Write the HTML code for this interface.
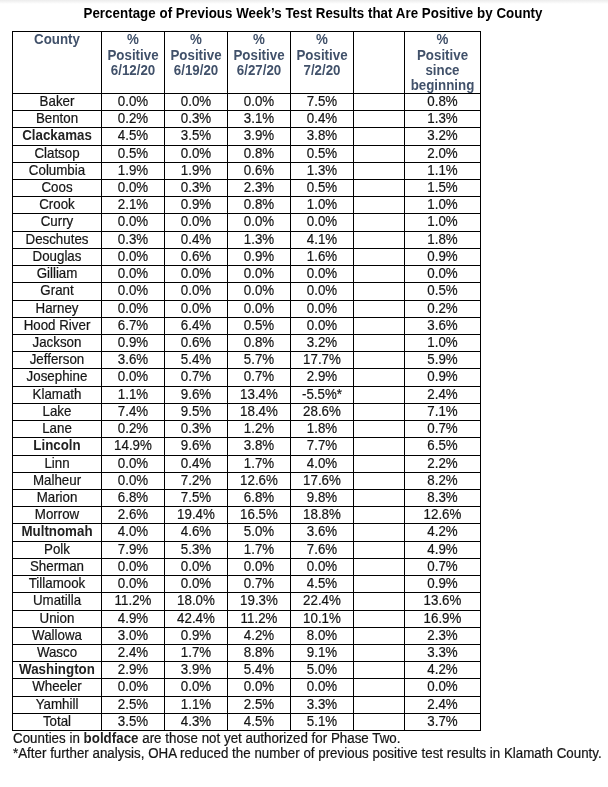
<!DOCTYPE html>
<html><head><meta charset="utf-8"><title>Percentage of Previous Week's Test Results that Are Positive by County</title>
<style>
html,body{margin:0;padding:0;background:#fff;}
body{width:608px;height:787px;position:relative;overflow:hidden;font-family:"Liberation Sans",sans-serif;color:#000;}
.shade{position:absolute;left:0;top:0;width:608px;height:4px;background:linear-gradient(#ececec,#ffffff);}
.t{position:absolute;white-space:nowrap;text-align:center;}
.title{left:0;width:626px;top:6px;font-size:13.33px;font-weight:bold;line-height:16px;color:#000;letter-spacing:0.04px;transform:scaleY(1.05);transform-origin:50% 12.5px;}
.h{font-size:13.33px;font-weight:bold;line-height:15px;height:15px;color:#41516A;transform:scaleY(1.09);transform-origin:50% 12px;}
.c{font-size:13.33px;line-height:17px;height:17px;color:#151515;-webkit-text-stroke:0.2px #151515;transform:translateY(-0.25px) scaleY(1.05);transform-origin:50% 13px;}
.b{font-weight:bold;color:#222;-webkit-text-stroke:0;}
.f b{-webkit-text-stroke:0;color:#222;}
.v,.hl{position:absolute;background:#000;}
.v{width:1px;}
.hl{height:1px;}
.f{position:absolute;left:13px;font-size:13.33px;line-height:15px;white-space:nowrap;color:#151515;-webkit-text-stroke:0.2px #151515;letter-spacing:0.015px;height:15px;transform:translateY(0.4px) scaleY(1.07);transform-origin:0 12px;}
</style></head><body>
<div class="shade"></div>
<div class="t title">Percentage of Previous Week’s Test Results that Are Positive by County</div>

<div class="v" style="left:12px;top:31px;height:700px"></div>
<div class="v" style="left:101px;top:31px;height:700px"></div>
<div class="v" style="left:164px;top:31px;height:700px"></div>
<div class="v" style="left:227px;top:31px;height:700px"></div>
<div class="v" style="left:290px;top:31px;height:700px"></div>
<div class="v" style="left:353px;top:31px;height:700px"></div>
<div class="v" style="left:404px;top:31px;height:700px"></div>
<div class="v" style="left:480px;top:31px;height:700px"></div>
<div class="hl" style="left:12px;top:31px;width:469px"></div>
<div class="hl" style="left:12px;top:93px;width:469px"></div>
<div class="hl" style="left:12px;top:110px;width:469px"></div>
<div class="hl" style="left:12px;top:127px;width:469px"></div>
<div class="hl" style="left:12px;top:145px;width:469px"></div>
<div class="hl" style="left:12px;top:162px;width:469px"></div>
<div class="hl" style="left:12px;top:179px;width:469px"></div>
<div class="hl" style="left:12px;top:196px;width:469px"></div>
<div class="hl" style="left:12px;top:213px;width:469px"></div>
<div class="hl" style="left:12px;top:231px;width:469px"></div>
<div class="hl" style="left:12px;top:248px;width:469px"></div>
<div class="hl" style="left:12px;top:265px;width:469px"></div>
<div class="hl" style="left:12px;top:282px;width:469px"></div>
<div class="hl" style="left:12px;top:300px;width:469px"></div>
<div class="hl" style="left:12px;top:317px;width:469px"></div>
<div class="hl" style="left:12px;top:334px;width:469px"></div>
<div class="hl" style="left:12px;top:351px;width:469px"></div>
<div class="hl" style="left:12px;top:368px;width:469px"></div>
<div class="hl" style="left:12px;top:386px;width:469px"></div>
<div class="hl" style="left:12px;top:403px;width:469px"></div>
<div class="hl" style="left:12px;top:420px;width:469px"></div>
<div class="hl" style="left:12px;top:437px;width:469px"></div>
<div class="hl" style="left:12px;top:455px;width:469px"></div>
<div class="hl" style="left:12px;top:472px;width:469px"></div>
<div class="hl" style="left:12px;top:489px;width:469px"></div>
<div class="hl" style="left:12px;top:506px;width:469px"></div>
<div class="hl" style="left:12px;top:523px;width:469px"></div>
<div class="hl" style="left:12px;top:541px;width:469px"></div>
<div class="hl" style="left:12px;top:558px;width:469px"></div>
<div class="hl" style="left:12px;top:575px;width:469px"></div>
<div class="hl" style="left:12px;top:592px;width:469px"></div>
<div class="hl" style="left:12px;top:610px;width:469px"></div>
<div class="hl" style="left:12px;top:627px;width:469px"></div>
<div class="hl" style="left:12px;top:644px;width:469px"></div>
<div class="hl" style="left:12px;top:661px;width:469px"></div>
<div class="hl" style="left:12px;top:678px;width:469px"></div>
<div class="hl" style="left:12px;top:696px;width:469px"></div>
<div class="hl" style="left:12px;top:713px;width:469px"></div>
<div class="hl" style="left:12px;top:730px;width:469px"></div>
<div class="t h" style="left:13px;width:88px;top:32.0px">County</div>
<div class="t h" style="left:102px;width:62px;top:32.0px">%</div>
<div class="t h" style="left:102px;width:62px;top:47.6px">Positive</div>
<div class="t h" style="left:102px;width:62px;top:62.8px">6/12/20</div>
<div class="t h" style="left:165px;width:62px;top:32.0px">%</div>
<div class="t h" style="left:165px;width:62px;top:47.6px">Positive</div>
<div class="t h" style="left:165px;width:62px;top:62.8px">6/19/20</div>
<div class="t h" style="left:228px;width:62px;top:32.0px">%</div>
<div class="t h" style="left:228px;width:62px;top:47.6px">Positive</div>
<div class="t h" style="left:228px;width:62px;top:62.8px">6/27/20</div>
<div class="t h" style="left:291px;width:62px;top:32.0px">%</div>
<div class="t h" style="left:291px;width:62px;top:47.6px">Positive</div>
<div class="t h" style="left:291px;width:62px;top:62.8px">7/2/20</div>
<div class="t h" style="left:405px;width:75px;top:32.0px">%</div>
<div class="t h" style="left:405px;width:75px;top:47.6px">Positive</div>
<div class="t h" style="left:405px;width:75px;top:62.8px">since</div>
<div class="t h" style="left:405px;width:75px;top:77.7px">beginning</div>
<div class="t c" style="left:13px;width:88px;top:93px">Baker</div>
<div class="t c" style="left:102px;width:62px;top:93px">0.0%</div>
<div class="t c" style="left:165px;width:62px;top:93px">0.0%</div>
<div class="t c" style="left:228px;width:62px;top:93px">0.0%</div>
<div class="t c" style="left:291px;width:62px;top:93px">7.5%</div>
<div class="t c" style="left:405px;width:75px;top:93px">0.8%</div>
<div class="t c" style="left:13px;width:88px;top:110px">Benton</div>
<div class="t c" style="left:102px;width:62px;top:110px">0.2%</div>
<div class="t c" style="left:165px;width:62px;top:110px">0.3%</div>
<div class="t c" style="left:228px;width:62px;top:110px">3.1%</div>
<div class="t c" style="left:291px;width:62px;top:110px">0.4%</div>
<div class="t c" style="left:405px;width:75px;top:110px">1.3%</div>
<div class="t c b" style="left:13px;width:88px;top:127px">Clackamas</div>
<div class="t c" style="left:102px;width:62px;top:127px">4.5%</div>
<div class="t c" style="left:165px;width:62px;top:127px">3.5%</div>
<div class="t c" style="left:228px;width:62px;top:127px">3.9%</div>
<div class="t c" style="left:291px;width:62px;top:127px">3.8%</div>
<div class="t c" style="left:405px;width:75px;top:127px">3.2%</div>
<div class="t c" style="left:13px;width:88px;top:145px">Clatsop</div>
<div class="t c" style="left:102px;width:62px;top:145px">0.5%</div>
<div class="t c" style="left:165px;width:62px;top:145px">0.0%</div>
<div class="t c" style="left:228px;width:62px;top:145px">0.8%</div>
<div class="t c" style="left:291px;width:62px;top:145px">0.5%</div>
<div class="t c" style="left:405px;width:75px;top:145px">2.0%</div>
<div class="t c" style="left:13px;width:88px;top:162px">Columbia</div>
<div class="t c" style="left:102px;width:62px;top:162px">1.9%</div>
<div class="t c" style="left:165px;width:62px;top:162px">1.9%</div>
<div class="t c" style="left:228px;width:62px;top:162px">0.6%</div>
<div class="t c" style="left:291px;width:62px;top:162px">1.3%</div>
<div class="t c" style="left:405px;width:75px;top:162px">1.1%</div>
<div class="t c" style="left:13px;width:88px;top:179px">Coos</div>
<div class="t c" style="left:102px;width:62px;top:179px">0.0%</div>
<div class="t c" style="left:165px;width:62px;top:179px">0.3%</div>
<div class="t c" style="left:228px;width:62px;top:179px">2.3%</div>
<div class="t c" style="left:291px;width:62px;top:179px">0.5%</div>
<div class="t c" style="left:405px;width:75px;top:179px">1.5%</div>
<div class="t c" style="left:13px;width:88px;top:196px">Crook</div>
<div class="t c" style="left:102px;width:62px;top:196px">2.1%</div>
<div class="t c" style="left:165px;width:62px;top:196px">0.9%</div>
<div class="t c" style="left:228px;width:62px;top:196px">0.8%</div>
<div class="t c" style="left:291px;width:62px;top:196px">1.0%</div>
<div class="t c" style="left:405px;width:75px;top:196px">1.0%</div>
<div class="t c" style="left:13px;width:88px;top:213px">Curry</div>
<div class="t c" style="left:102px;width:62px;top:213px">0.0%</div>
<div class="t c" style="left:165px;width:62px;top:213px">0.0%</div>
<div class="t c" style="left:228px;width:62px;top:213px">0.0%</div>
<div class="t c" style="left:291px;width:62px;top:213px">0.0%</div>
<div class="t c" style="left:405px;width:75px;top:213px">1.0%</div>
<div class="t c" style="left:13px;width:88px;top:231px">Deschutes</div>
<div class="t c" style="left:102px;width:62px;top:231px">0.3%</div>
<div class="t c" style="left:165px;width:62px;top:231px">0.4%</div>
<div class="t c" style="left:228px;width:62px;top:231px">1.3%</div>
<div class="t c" style="left:291px;width:62px;top:231px">4.1%</div>
<div class="t c" style="left:405px;width:75px;top:231px">1.8%</div>
<div class="t c" style="left:13px;width:88px;top:248px">Douglas</div>
<div class="t c" style="left:102px;width:62px;top:248px">0.0%</div>
<div class="t c" style="left:165px;width:62px;top:248px">0.6%</div>
<div class="t c" style="left:228px;width:62px;top:248px">0.9%</div>
<div class="t c" style="left:291px;width:62px;top:248px">1.6%</div>
<div class="t c" style="left:405px;width:75px;top:248px">0.9%</div>
<div class="t c" style="left:13px;width:88px;top:265px">Gilliam</div>
<div class="t c" style="left:102px;width:62px;top:265px">0.0%</div>
<div class="t c" style="left:165px;width:62px;top:265px">0.0%</div>
<div class="t c" style="left:228px;width:62px;top:265px">0.0%</div>
<div class="t c" style="left:291px;width:62px;top:265px">0.0%</div>
<div class="t c" style="left:405px;width:75px;top:265px">0.0%</div>
<div class="t c" style="left:13px;width:88px;top:282px">Grant</div>
<div class="t c" style="left:102px;width:62px;top:282px">0.0%</div>
<div class="t c" style="left:165px;width:62px;top:282px">0.0%</div>
<div class="t c" style="left:228px;width:62px;top:282px">0.0%</div>
<div class="t c" style="left:291px;width:62px;top:282px">0.0%</div>
<div class="t c" style="left:405px;width:75px;top:282px">0.5%</div>
<div class="t c" style="left:13px;width:88px;top:300px">Harney</div>
<div class="t c" style="left:102px;width:62px;top:300px">0.0%</div>
<div class="t c" style="left:165px;width:62px;top:300px">0.0%</div>
<div class="t c" style="left:228px;width:62px;top:300px">0.0%</div>
<div class="t c" style="left:291px;width:62px;top:300px">0.0%</div>
<div class="t c" style="left:405px;width:75px;top:300px">0.2%</div>
<div class="t c" style="left:13px;width:88px;top:317px">Hood River</div>
<div class="t c" style="left:102px;width:62px;top:317px">6.7%</div>
<div class="t c" style="left:165px;width:62px;top:317px">6.4%</div>
<div class="t c" style="left:228px;width:62px;top:317px">0.5%</div>
<div class="t c" style="left:291px;width:62px;top:317px">0.0%</div>
<div class="t c" style="left:405px;width:75px;top:317px">3.6%</div>
<div class="t c" style="left:13px;width:88px;top:334px">Jackson</div>
<div class="t c" style="left:102px;width:62px;top:334px">0.9%</div>
<div class="t c" style="left:165px;width:62px;top:334px">0.6%</div>
<div class="t c" style="left:228px;width:62px;top:334px">0.8%</div>
<div class="t c" style="left:291px;width:62px;top:334px">3.2%</div>
<div class="t c" style="left:405px;width:75px;top:334px">1.0%</div>
<div class="t c" style="left:13px;width:88px;top:351px">Jefferson</div>
<div class="t c" style="left:102px;width:62px;top:351px">3.6%</div>
<div class="t c" style="left:165px;width:62px;top:351px">5.4%</div>
<div class="t c" style="left:228px;width:62px;top:351px">5.7%</div>
<div class="t c" style="left:291px;width:62px;top:351px">17.7%</div>
<div class="t c" style="left:405px;width:75px;top:351px">5.9%</div>
<div class="t c" style="left:13px;width:88px;top:368px">Josephine</div>
<div class="t c" style="left:102px;width:62px;top:368px">0.0%</div>
<div class="t c" style="left:165px;width:62px;top:368px">0.7%</div>
<div class="t c" style="left:228px;width:62px;top:368px">0.7%</div>
<div class="t c" style="left:291px;width:62px;top:368px">2.9%</div>
<div class="t c" style="left:405px;width:75px;top:368px">0.9%</div>
<div class="t c" style="left:13px;width:88px;top:386px">Klamath</div>
<div class="t c" style="left:102px;width:62px;top:386px">1.1%</div>
<div class="t c" style="left:165px;width:62px;top:386px">9.6%</div>
<div class="t c" style="left:228px;width:62px;top:386px">13.4%</div>
<div class="t c" style="left:291px;width:62px;top:386px">-5.5%*</div>
<div class="t c" style="left:405px;width:75px;top:386px">2.4%</div>
<div class="t c" style="left:13px;width:88px;top:403px">Lake</div>
<div class="t c" style="left:102px;width:62px;top:403px">7.4%</div>
<div class="t c" style="left:165px;width:62px;top:403px">9.5%</div>
<div class="t c" style="left:228px;width:62px;top:403px">18.4%</div>
<div class="t c" style="left:291px;width:62px;top:403px">28.6%</div>
<div class="t c" style="left:405px;width:75px;top:403px">7.1%</div>
<div class="t c" style="left:13px;width:88px;top:420px">Lane</div>
<div class="t c" style="left:102px;width:62px;top:420px">0.2%</div>
<div class="t c" style="left:165px;width:62px;top:420px">0.3%</div>
<div class="t c" style="left:228px;width:62px;top:420px">1.2%</div>
<div class="t c" style="left:291px;width:62px;top:420px">1.8%</div>
<div class="t c" style="left:405px;width:75px;top:420px">0.7%</div>
<div class="t c b" style="left:13px;width:88px;top:437px">Lincoln</div>
<div class="t c" style="left:102px;width:62px;top:437px">14.9%</div>
<div class="t c" style="left:165px;width:62px;top:437px">9.6%</div>
<div class="t c" style="left:228px;width:62px;top:437px">3.8%</div>
<div class="t c" style="left:291px;width:62px;top:437px">7.7%</div>
<div class="t c" style="left:405px;width:75px;top:437px">6.5%</div>
<div class="t c" style="left:13px;width:88px;top:455px">Linn</div>
<div class="t c" style="left:102px;width:62px;top:455px">0.0%</div>
<div class="t c" style="left:165px;width:62px;top:455px">0.4%</div>
<div class="t c" style="left:228px;width:62px;top:455px">1.7%</div>
<div class="t c" style="left:291px;width:62px;top:455px">4.0%</div>
<div class="t c" style="left:405px;width:75px;top:455px">2.2%</div>
<div class="t c" style="left:13px;width:88px;top:472px">Malheur</div>
<div class="t c" style="left:102px;width:62px;top:472px">0.0%</div>
<div class="t c" style="left:165px;width:62px;top:472px">7.2%</div>
<div class="t c" style="left:228px;width:62px;top:472px">12.6%</div>
<div class="t c" style="left:291px;width:62px;top:472px">17.6%</div>
<div class="t c" style="left:405px;width:75px;top:472px">8.2%</div>
<div class="t c" style="left:13px;width:88px;top:489px">Marion</div>
<div class="t c" style="left:102px;width:62px;top:489px">6.8%</div>
<div class="t c" style="left:165px;width:62px;top:489px">7.5%</div>
<div class="t c" style="left:228px;width:62px;top:489px">6.8%</div>
<div class="t c" style="left:291px;width:62px;top:489px">9.8%</div>
<div class="t c" style="left:405px;width:75px;top:489px">8.3%</div>
<div class="t c" style="left:13px;width:88px;top:506px">Morrow</div>
<div class="t c" style="left:102px;width:62px;top:506px">2.6%</div>
<div class="t c" style="left:165px;width:62px;top:506px">19.4%</div>
<div class="t c" style="left:228px;width:62px;top:506px">16.5%</div>
<div class="t c" style="left:291px;width:62px;top:506px">18.8%</div>
<div class="t c" style="left:405px;width:75px;top:506px">12.6%</div>
<div class="t c b" style="left:13px;width:88px;top:523px">Multnomah</div>
<div class="t c" style="left:102px;width:62px;top:523px">4.0%</div>
<div class="t c" style="left:165px;width:62px;top:523px">4.6%</div>
<div class="t c" style="left:228px;width:62px;top:523px">5.0%</div>
<div class="t c" style="left:291px;width:62px;top:523px">3.6%</div>
<div class="t c" style="left:405px;width:75px;top:523px">4.2%</div>
<div class="t c" style="left:13px;width:88px;top:541px">Polk</div>
<div class="t c" style="left:102px;width:62px;top:541px">7.9%</div>
<div class="t c" style="left:165px;width:62px;top:541px">5.3%</div>
<div class="t c" style="left:228px;width:62px;top:541px">1.7%</div>
<div class="t c" style="left:291px;width:62px;top:541px">7.6%</div>
<div class="t c" style="left:405px;width:75px;top:541px">4.9%</div>
<div class="t c" style="left:13px;width:88px;top:558px">Sherman</div>
<div class="t c" style="left:102px;width:62px;top:558px">0.0%</div>
<div class="t c" style="left:165px;width:62px;top:558px">0.0%</div>
<div class="t c" style="left:228px;width:62px;top:558px">0.0%</div>
<div class="t c" style="left:291px;width:62px;top:558px">0.0%</div>
<div class="t c" style="left:405px;width:75px;top:558px">0.7%</div>
<div class="t c" style="left:13px;width:88px;top:575px">Tillamook</div>
<div class="t c" style="left:102px;width:62px;top:575px">0.0%</div>
<div class="t c" style="left:165px;width:62px;top:575px">0.0%</div>
<div class="t c" style="left:228px;width:62px;top:575px">0.7%</div>
<div class="t c" style="left:291px;width:62px;top:575px">4.5%</div>
<div class="t c" style="left:405px;width:75px;top:575px">0.9%</div>
<div class="t c" style="left:13px;width:88px;top:592px">Umatilla</div>
<div class="t c" style="left:102px;width:62px;top:592px">11.2%</div>
<div class="t c" style="left:165px;width:62px;top:592px">18.0%</div>
<div class="t c" style="left:228px;width:62px;top:592px">19.3%</div>
<div class="t c" style="left:291px;width:62px;top:592px">22.4%</div>
<div class="t c" style="left:405px;width:75px;top:592px">13.6%</div>
<div class="t c" style="left:13px;width:88px;top:610px">Union</div>
<div class="t c" style="left:102px;width:62px;top:610px">4.9%</div>
<div class="t c" style="left:165px;width:62px;top:610px">42.4%</div>
<div class="t c" style="left:228px;width:62px;top:610px">11.2%</div>
<div class="t c" style="left:291px;width:62px;top:610px">10.1%</div>
<div class="t c" style="left:405px;width:75px;top:610px">16.9%</div>
<div class="t c" style="left:13px;width:88px;top:627px">Wallowa</div>
<div class="t c" style="left:102px;width:62px;top:627px">3.0%</div>
<div class="t c" style="left:165px;width:62px;top:627px">0.9%</div>
<div class="t c" style="left:228px;width:62px;top:627px">4.2%</div>
<div class="t c" style="left:291px;width:62px;top:627px">8.0%</div>
<div class="t c" style="left:405px;width:75px;top:627px">2.3%</div>
<div class="t c" style="left:13px;width:88px;top:644px">Wasco</div>
<div class="t c" style="left:102px;width:62px;top:644px">2.4%</div>
<div class="t c" style="left:165px;width:62px;top:644px">1.7%</div>
<div class="t c" style="left:228px;width:62px;top:644px">8.8%</div>
<div class="t c" style="left:291px;width:62px;top:644px">9.1%</div>
<div class="t c" style="left:405px;width:75px;top:644px">3.3%</div>
<div class="t c b" style="left:13px;width:88px;top:661px">Washington</div>
<div class="t c" style="left:102px;width:62px;top:661px">2.9%</div>
<div class="t c" style="left:165px;width:62px;top:661px">3.9%</div>
<div class="t c" style="left:228px;width:62px;top:661px">5.4%</div>
<div class="t c" style="left:291px;width:62px;top:661px">5.0%</div>
<div class="t c" style="left:405px;width:75px;top:661px">4.2%</div>
<div class="t c" style="left:13px;width:88px;top:678px">Wheeler</div>
<div class="t c" style="left:102px;width:62px;top:678px">0.0%</div>
<div class="t c" style="left:165px;width:62px;top:678px">0.0%</div>
<div class="t c" style="left:228px;width:62px;top:678px">0.0%</div>
<div class="t c" style="left:291px;width:62px;top:678px">0.0%</div>
<div class="t c" style="left:405px;width:75px;top:678px">0.0%</div>
<div class="t c" style="left:13px;width:88px;top:696px">Yamhill</div>
<div class="t c" style="left:102px;width:62px;top:696px">2.5%</div>
<div class="t c" style="left:165px;width:62px;top:696px">1.1%</div>
<div class="t c" style="left:228px;width:62px;top:696px">2.5%</div>
<div class="t c" style="left:291px;width:62px;top:696px">3.3%</div>
<div class="t c" style="left:405px;width:75px;top:696px">2.4%</div>
<div class="t c" style="left:13px;width:88px;top:713px">Total</div>
<div class="t c" style="left:102px;width:62px;top:713px">3.5%</div>
<div class="t c" style="left:165px;width:62px;top:713px">4.3%</div>
<div class="t c" style="left:228px;width:62px;top:713px">4.5%</div>
<div class="t c" style="left:291px;width:62px;top:713px">5.1%</div>
<div class="t c" style="left:405px;width:75px;top:713px">3.7%</div>
<div class="f" style="top:731px">Counties in <b>boldface</b> are those not yet authorized for Phase Two.</div>
<div class="f" style="top:746px">*After further analysis, OHA reduced the number of previous positive test results in Klamath County.</div>
</body></html>
